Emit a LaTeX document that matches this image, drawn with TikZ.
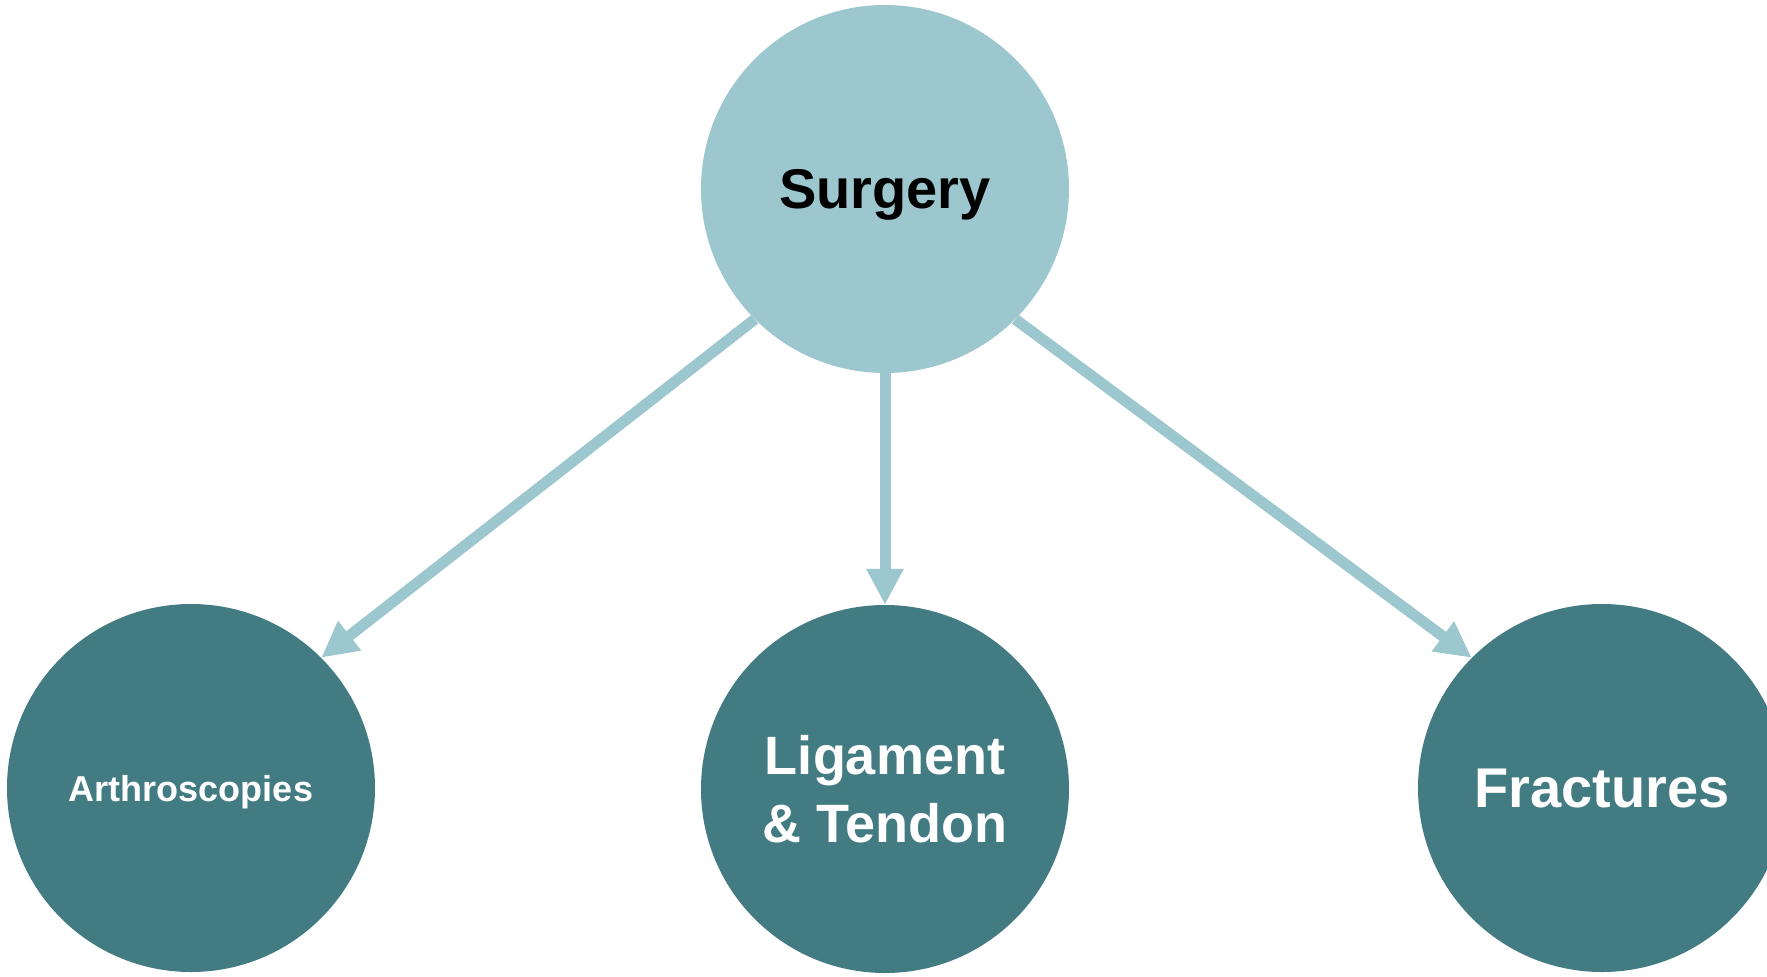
\documentclass[tikz,border=0pt]{standalone}
\usepackage{fontspec}
\setmainfont{Liberation Sans}
\usepackage{tikz}
\usetikzlibrary{arrows.meta}

\definecolor{lightteal}{HTML}{9DC7CE}
\definecolor{darkteal}{HTML}{437B83}

\begin{document}
\begin{tikzpicture}[x=1pt, y=-1pt,
    >={Triangle[length=36pt, width=35pt]},
    topcircle/.style={circle, fill=lightteal, minimum size=368pt, inner sep=0pt,
        text depth=0pt, font=\bfseries\fontsize{56}{60}\selectfont, text=black},
    subcircle/.style={circle, fill=darkteal, minimum size=368pt, inner sep=0pt,
        text depth=0pt, text=white, align=center},
    link/.style={->, draw=lightteal, fill=lightteal, line width=11pt}]
            \useasboundingbox (0,0) rectangle (1767,977);
            \clip (0,0) rectangle (1767,977);

            \node[topcircle] (surgery) at (885,189) {Surgery};
            
            \node[subcircle, font=\bfseries\fontsize{36}{40}\selectfont] (arthro) at (191,788) {Arthroscopies};
            \node[subcircle, font=\bfseries\fontsize{54}{68}\selectfont] (ligament) at (885,789) {Ligament\\\& Tendon};
            \node[subcircle, font=\bfseries\fontsize{56}{60}\selectfont] (fractures) at (1602,788) {Fractures};
            
            \draw[link] (surgery.south west) -- (arthro.north east);
            \draw[link] (surgery.south) -- (ligament.north);
            \draw[link] (surgery.south east) -- (fractures.north west);
        \end{tikzpicture}
\end{document}
